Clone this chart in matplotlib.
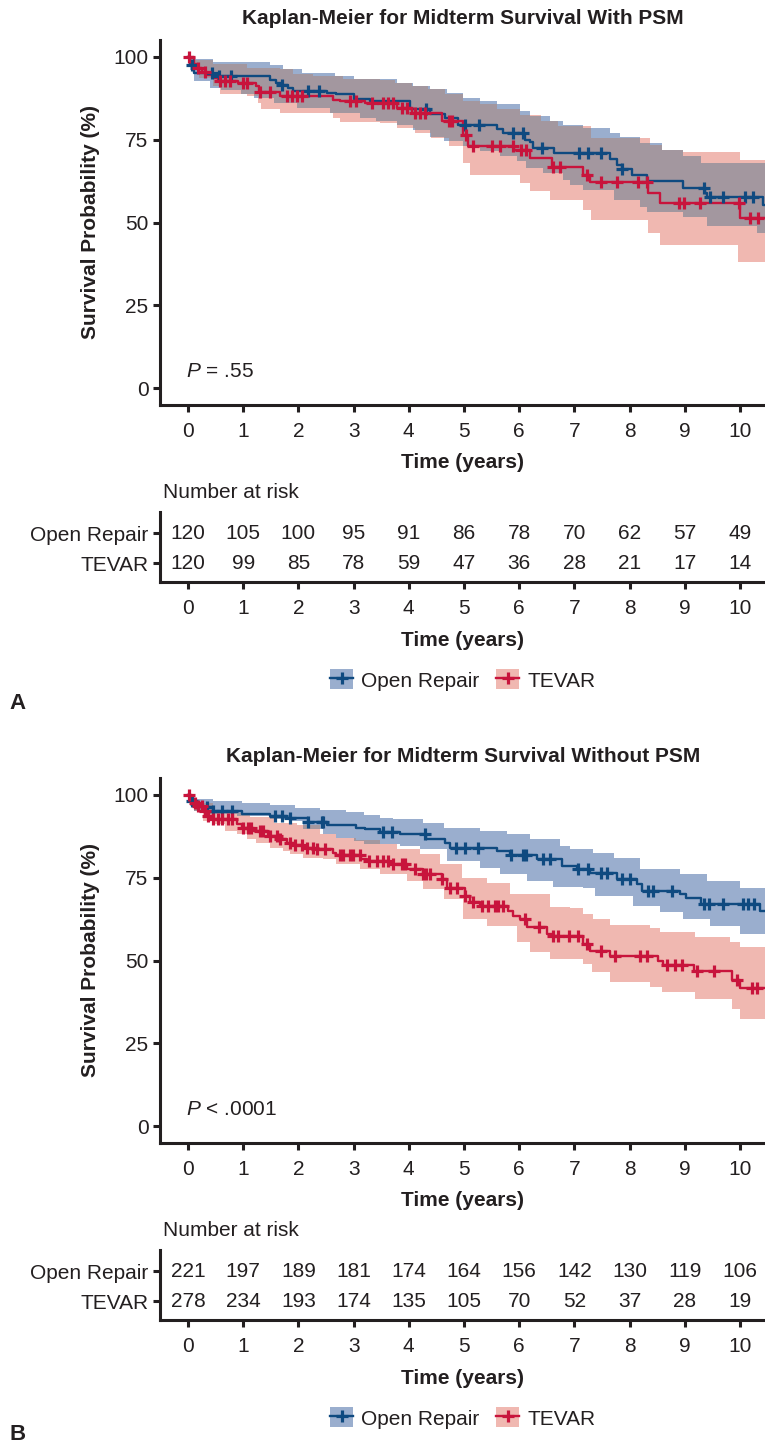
import numpy as np
import matplotlib
matplotlib.use('Agg')
import matplotlib.pyplot as plt
from matplotlib.patches import Patch
from matplotlib.lines import Line2D

plt.rcParams['font.family'] = ['Liberation Sans', 'DejaVu Sans']
plt.rcParams['mathtext.fontset'] = 'custom'
plt.rcParams['mathtext.it'] = 'Liberation Sans:italic'
plt.rcParams['mathtext.rm'] = 'Liberation Sans'

# ---- Panel A (with PSM) ----
a_or_t = [0, 0.03, 0.10, 0.46, 1.49, 1.60, 1.70, 1.82, 1.90, 2.51, 2.69, 3.00, 3.30, 4.02, 4.38, 4.66,
          4.90, 5.59, 5.70, 6.10, 6.20, 6.25, 6.63, 7.64, 7.77, 7.86, 8.05, 8.31, 8.97, 9.36, 9.40, 10.42]
a_or_s = [100, 97.5, 95.2, 94.1, 92.8, 92.1, 91.4, 90.6, 89.6, 89.1, 88.6, 87.3, 86.5, 84.3, 82.8, 81.5,
          79.5, 78.2, 77.0, 75.0, 74.2, 72.5, 71.0, 69.0, 67.4, 66.1, 64.4, 62.4, 60.4, 58.9, 57.6, 55.4]
a_or_cens = [0.07, 0.44, 0.57, 0.77, 1.71, 2.18, 2.38, 4.32, 5.02, 5.27, 5.88, 6.07, 6.41, 7.08, 7.25,
             7.48, 7.86, 9.34, 9.46, 9.70, 10.09, 10.23]
a_or_hi_t = [0, 0.05, 0.46, 1.49, 1.73, 2.06, 2.66, 3.00, 3.78, 4.08, 4.38, 4.69, 4.99, 5.29, 5.59, 6.01,
             6.20, 6.56, 6.80, 7.16, 7.64, 7.82, 8.19, 8.58, 8.97, 9.30]
a_or_hi_s = [100, 99.2, 98.4, 97.4, 96.2, 95.2, 94.2, 93.1, 92.1, 91.1, 90.1, 88.9, 87.6, 86.6, 85.6, 83.6,
             82.0, 80.5, 79.5, 78.5, 77.0, 75.8, 74.0, 72.0, 70.0, 68.0]
a_or_lo_t = [0, 0.03, 0.10, 0.40, 0.60, 0.96, 1.20, 1.56, 1.98, 2.58, 3.12, 3.40, 3.78, 4.08, 4.38, 4.63,
             4.99, 5.29, 5.65, 5.96, 6.13, 6.44, 6.80, 6.92, 7.16, 7.71, 8.19, 8.31, 8.97, 9.40, 10.30]
a_or_lo_s = [100, 96.0, 92.6, 90.5, 90.0, 88.8, 87.6, 86.1, 84.6, 83.1, 81.6, 80.5, 79.5, 78.0, 75.7, 74.5,
             73.0, 71.5, 70.0, 68.4, 66.4, 64.9, 62.9, 61.4, 59.9, 56.9, 54.8, 53.3, 51.8, 49.0, 46.9]

a_tv_t = [0, 0.10, 0.16, 0.25, 0.34, 0.46, 0.55, 0.90, 1.24, 1.28, 1.67, 2.63, 2.75, 3.20, 3.78, 4.05,
          4.60, 4.99, 5.08, 5.90, 6.20, 6.59, 7.16, 7.28, 8.34, 8.55, 10.00]
a_tv_s = [100, 97.7, 96.7, 95.4, 94.6, 93.6, 92.6, 92.1, 91.0, 89.3, 88.1, 87.0, 86.6, 86.1, 84.6, 83.1,
          80.5, 76.5, 73.0, 72.0, 69.3, 66.8, 64.4, 62.1, 58.9, 55.9, 51.3]
a_tv_cens = [0.01, 0.19, 0.31, 0.58, 0.67, 0.76, 1.00, 1.06, 1.30, 1.49, 1.79, 1.88, 1.97, 2.06, 2.93,
             3.05, 3.33, 3.54, 3.63, 3.72, 3.87, 3.96, 4.11, 4.20, 4.29, 4.72, 4.78, 5.04, 5.16, 5.50,
             5.66, 5.89, 6.04, 6.13, 6.62, 6.74, 7.22, 7.49, 7.77, 8.16, 8.31, 8.89, 8.98, 9.28, 9.98,
             10.18, 10.33]
a_tv_hi_t = [0, 0.05, 0.46, 1.06, 1.67, 1.90, 2.27, 2.80, 3.48, 3.75, 4.05, 4.35, 4.66, 4.99, 5.29, 5.59,
             6.01, 6.40, 6.70, 7.30, 8.37, 8.58, 8.97, 10.00]
a_tv_hi_s = [100, 99.0, 97.7, 96.7, 96.3, 94.9, 94.1, 93.1, 92.9, 92.1, 91.1, 90.1, 88.6, 86.6, 85.6, 84.1,
             82.5, 80.5, 79.2, 75.5, 73.5, 72.0, 71.2, 68.7]
a_tv_lo_t = [0, 0.10, 0.20, 0.46, 0.58, 1.06, 1.27, 1.33, 1.67, 2.63, 2.75, 3.48, 3.78, 4.11, 4.41, 4.72,
             4.99, 5.11, 6.01, 6.20, 6.56, 7.16, 7.30, 8.34, 8.55, 9.97]
a_tv_lo_s = [100, 96.0, 93.5, 91.0, 88.7, 88.1, 86.1, 84.1, 82.9, 81.6, 80.2, 80.0, 78.5, 77.0, 75.5, 73.0,
             68.0, 64.4, 61.9, 59.4, 56.9, 53.8, 50.8, 46.8, 43.3, 38.2]

a_risk_or = [120, 105, 100, 95, 91, 86, 78, 70, 62, 57, 49]
a_risk_tv = [120, 99, 85, 78, 59, 47, 36, 28, 21, 17, 14]

# ---- Panel B (without PSM) ----
b_or_t = [0, 0.04, 0.10, 0.13, 0.46, 0.97, 1.49, 1.79, 2.18, 2.51, 3.05, 3.21, 3.48, 3.84, 4.32, 4.66,
          4.75, 5.59, 5.84, 6.32, 6.77, 7.04, 7.28, 7.77, 8.13, 8.22, 8.91, 9.03, 9.30, 10.36]
b_or_s = [100, 98.0, 97.0, 96.2, 95.0, 94.2, 93.5, 93.0, 91.7, 90.8, 90.0, 89.5, 88.8, 88.2, 86.7, 85.5,
          84.0, 83.0, 81.7, 80.5, 78.5, 77.7, 76.5, 74.5, 73.0, 71.0, 70.0, 68.7, 67.0, 65.0]
b_or_cens = [0.07, 0.34, 0.46, 0.61, 0.79, 1.58, 1.70, 1.85, 2.18, 2.42, 2.45, 3.54, 3.69, 4.29, 4.86,
             5.02, 5.26, 5.86, 6.07, 6.13, 6.44, 6.56, 7.07, 7.25, 7.48, 7.59, 7.86, 8.01, 8.34, 8.43,
             8.76, 9.34, 9.43, 9.70, 10.05, 10.14, 10.25]
b_or_hi_t = [0, 0.10, 0.46, 0.97, 1.49, 1.94, 2.39, 2.87, 3.18, 3.48, 3.72, 4.26, 4.63, 5.29, 5.77, 6.20,
             6.74, 6.92, 7.34, 7.71, 8.19, 8.91, 9.40, 10.00]
b_or_hi_s = [100, 98.7, 98.0, 97.5, 96.8, 96.0, 95.5, 94.7, 93.7, 93.0, 92.5, 91.5, 90.0, 89.0, 88.0, 86.5,
             84.5, 83.7, 82.5, 81.0, 77.7, 76.0, 74.0, 72.0]
b_or_lo_t = [0, 0.04, 0.10, 0.40, 0.88, 1.49, 1.85, 2.09, 2.45, 2.69, 3.00, 3.18, 3.84, 4.20, 4.69, 5.29,
             5.65, 6.14, 6.62, 7.16, 7.37, 8.07, 8.55, 8.97, 9.46, 10.00]
b_or_lo_s = [100, 96.5, 95.0, 94.2, 93.5, 92.7, 92.0, 89.5, 88.0, 87.0, 86.0, 85.2, 84.5, 83.5, 80.0, 78.0,
             76.0, 74.0, 72.3, 72.0, 69.5, 66.5, 64.5, 62.5, 60.5, 58.0]

b_tv_t = [0, 0.07, 0.13, 0.19, 0.28, 0.34, 0.46, 0.88, 0.97, 1.18, 1.45, 1.67, 1.79, 1.94, 2.09, 2.33,
          2.63, 2.69, 3.14, 3.24, 3.66, 3.96, 4.26, 4.60, 4.69, 5.02, 5.11, 5.29, 5.80, 5.89, 6.01, 6.14,
          6.50, 6.62, 7.16, 7.28, 7.64, 8.52, 8.61, 9.16, 9.85, 10.00]
b_tv_s = [100, 98.5, 97.5, 96.5, 95.0, 93.5, 92.5, 91.0, 90.0, 89.0, 87.5, 86.5, 85.5, 84.8, 84.0, 83.5,
          82.5, 81.7, 80.5, 80.0, 79.0, 77.5, 76.0, 74.5, 72.0, 69.5, 67.5, 66.5, 65.0, 63.5, 62.5, 60.0,
          58.0, 57.3, 55.0, 53.0, 51.5, 50.0, 48.5, 46.7, 44.0, 41.7]
b_tv_cens = [0.01, 0.13, 0.19, 0.25, 0.31, 0.37, 0.46, 0.55, 0.61, 0.73, 0.79, 1.00, 1.09, 1.15, 1.30,
             1.36, 1.49, 1.61, 1.67, 1.85, 1.94, 2.06, 2.15, 2.27, 2.33, 2.48, 2.75, 2.81, 2.93, 2.99,
             3.12, 3.27, 3.42, 3.54, 3.63, 3.72, 3.87, 3.93, 4.11, 4.26, 4.32, 4.38, 4.60, 4.75, 4.87,
             5.02, 5.17, 5.32, 5.44, 5.56, 5.62, 5.71, 6.10, 6.35, 6.62, 6.71, 6.91, 7.07, 7.22, 7.49,
             7.73, 8.19, 8.31, 8.67, 8.82, 8.95, 9.22, 9.52, 9.94, 10.21, 10.30]
b_tv_hi_t = [0, 0.10, 0.46, 0.76, 1.12, 1.55, 1.97, 2.39, 2.69, 3.05, 3.48, 3.78, 4.20, 4.57, 4.96, 5.41,
             5.84, 6.56, 6.92, 7.16, 7.34, 7.64, 8.37, 8.55, 9.19, 9.82, 10.00]
b_tv_hi_s = [100, 97.5, 95.5, 94.5, 93.3, 91.5, 90.8, 88.2, 87.0, 86.2, 85.0, 83.5, 82.0, 79.0, 75.0, 73.5,
             70.0, 66.0, 65.7, 64.0, 62.5, 60.7, 59.7, 58.5, 57.0, 55.5, 54.0]
b_tv_lo_t = [0, 0.10, 0.28, 0.46, 0.67, 0.88, 1.06, 1.24, 1.49, 1.73, 1.85, 2.09, 2.45, 2.69, 3.12, 3.48,
             3.96, 4.26, 4.63, 4.99, 5.41, 5.96, 6.20, 6.56, 7.16, 7.31, 7.64, 8.37, 8.58, 9.19, 9.85, 10.00]
b_tv_lo_s = [100, 95.0, 92.0, 91.0, 89.0, 88.0, 86.5, 85.5, 84.0, 83.0, 82.0, 81.0, 80.5, 79.0, 77.5, 76.0,
             74.0, 71.5, 68.5, 62.5, 60.5, 55.5, 52.5, 50.5, 49.0, 46.5, 43.5, 42.0, 40.5, 38.5, 35.5, 32.5]

b_risk_or = [221, 197, 189, 181, 174, 164, 156, 142, 130, 119, 106]
b_risk_tv = [278, 234, 193, 174, 135, 105, 70, 52, 37, 28, 19]

groups = ['Open Repair', 'TEVAR']
years = list(range(11))

BLUE_LINE = '#0f4a80'
RED_LINE = '#c8143c'
BLUE_BAND = '#9aaece'
RED_BAND = '#f0b8b1'
OVERLAP = '#a3979f'
INK = '#231f20'
FS = 15
W, H = 765, 1446
XMIN, XMAX = -0.5, 10.5


def step_at(t, s, x):
    idx = np.searchsorted(np.asarray(t), x, side='right') - 1
    return np.asarray(s)[np.clip(idx, 0, None)]


def fy(py):
    return 1 - py / H


def style_axes(ax):
    for side in ['top', 'right']:
        ax.spines[side].set_visible(False)
    for side in ['left', 'bottom']:
        ax.spines[side].set_linewidth(2.2)
        ax.spines[side].set_color(INK)
    ax.tick_params(width=2.2, length=5, color=INK, labelsize=FS, labelcolor=INK)
    ax.tick_params(axis='x', pad=7)
    ax.tick_params(axis='y', pad=3.5)
    ax.set_xlim(XMIN, XMAX)
    ax.set_xticks(years)


def draw_panel(fig, dy, title, ptext, orr, tev, risk_or, risk_tv, letter, letter_y):
    # main KM plot
    ax = fig.add_axes([160.4 / W, fy(405 + dy), 607.2 / W, 365 / H])
    style_axes(ax)
    ax.set_ylim(-5, 105)
    ax.set_yticks([0, 25, 50, 75, 100])

    grid = np.unique(np.concatenate([orr[3], orr[5], tev[3], tev[5], [XMAX]]))
    b_hi = step_at(orr[3], orr[4], grid)
    b_lo = step_at(orr[5], orr[6], grid)
    r_hi = step_at(tev[3], tev[4], grid)
    r_lo = step_at(tev[5], tev[6], grid)
    ax.fill_between(grid, b_lo, b_hi, step='post', color=BLUE_BAND, lw=0, zorder=1)
    ax.fill_between(grid, r_lo, r_hi, step='post', color=RED_BAND, lw=0, zorder=1.2)
    ov_lo = np.maximum(b_lo, r_lo)
    ov_hi = np.maximum(np.minimum(b_hi, r_hi), ov_lo)
    ax.fill_between(grid, ov_lo, ov_hi, step='post', color=OVERLAP, lw=0, zorder=1.4)

    for (t, s, cens, *_), col in [(orr, BLUE_LINE), (tev, RED_LINE)]:
        ax.step(np.append(t, XMAX), np.append(s, s[-1]), where='post', color=col, lw=1.7, zorder=3)
        ax.plot(cens, step_at(t, s, np.asarray(cens)), ls='none', marker='+', ms=8.5, mew=2.3,
                color=col, zorder=4)

    ax.text(-0.03, 5, ptext, fontsize=FS, color=INK, ha='left', va='center')
    fig.text(463 / W, fy(18 + dy), title, fontsize=FS, fontweight='bold', color=INK,
             ha='center', va='center')
    fig.text(91 / W, fy(222 + dy), 'Survival Probability (%)', fontsize=FS, fontweight='bold',
             color=INK, rotation=90, ha='center', va='center')
    fig.text(463 / W, fy(462 + dy), 'Time (years)', fontsize=FS, fontweight='bold', color=INK,
             ha='center', va='center')

    # number at risk table
    fig.text(163 / W, fy(493 + dy), 'Number at risk', fontsize=FS, color=INK, ha='left', va='center')
    tb = fig.add_axes([160.4 / W, fy(582 + dy), 607.2 / W, 70 / H])
    style_axes(tb)
    tb.set_ylim(-0.633, 1.7)
    tb.set_yticks([1, 0])
    tb.set_yticklabels(groups)
    for yr, n1, n2 in zip(years, risk_or, risk_tv):
        tb.text(yr, 1, str(n1), fontsize=FS, color=INK, ha='center', va='center')
        tb.text(yr, 0, str(n2), fontsize=FS, color=INK, ha='center', va='center')
    fig.text(463 / W, fy(640 + dy), 'Time (years)', fontsize=FS, fontweight='bold', color=INK,
             ha='center', va='center')

    handles = [(Patch(facecolor=BLUE_BAND), Line2D([], [], color=BLUE_LINE, marker='+', ms=8.5, mew=2.3, lw=1.7)),
               (Patch(facecolor=RED_BAND), Line2D([], [], color=RED_LINE, marker='+', ms=8.5, mew=2.3, lw=1.7))]
    fig.legend(handles, groups, loc='center', bbox_to_anchor=(463 / W, fy(680 + dy)), ncol=2,
               frameon=False, fontsize=FS, handlelength=1.1, handleheight=1.1, handletextpad=0.4,
               columnspacing=0.8, borderpad=0, labelcolor=INK)
    fig.text(18 / W, fy(letter_y), letter, fontsize=FS + 1, fontweight='bold', color=INK,
             ha='center', va='center')


fig = plt.figure(figsize=(W / 100, H / 100), dpi=100)

draw_panel(fig, 0, 'Kaplan-Meier for Midterm Survival With PSM', r'$P$ = .55',
           (a_or_t, a_or_s, a_or_cens, a_or_hi_t, a_or_hi_s, a_or_lo_t, a_or_lo_s),
           (a_tv_t, a_tv_s, a_tv_cens, a_tv_hi_t, a_tv_hi_s, a_tv_lo_t, a_tv_lo_s),
           a_risk_or, a_risk_tv, 'A', 703)
draw_panel(fig, 738, 'Kaplan-Meier for Midterm Survival Without PSM', r'$P$ < .0001',
           (b_or_t, b_or_s, b_or_cens, b_or_hi_t, b_or_hi_s, b_or_lo_t, b_or_lo_s),
           (b_tv_t, b_tv_s, b_tv_cens, b_tv_hi_t, b_tv_hi_s, b_tv_lo_t, b_tv_lo_s),
           b_risk_or, b_risk_tv, 'B', 1434)

fig.savefig('out.png', dpi=100)
